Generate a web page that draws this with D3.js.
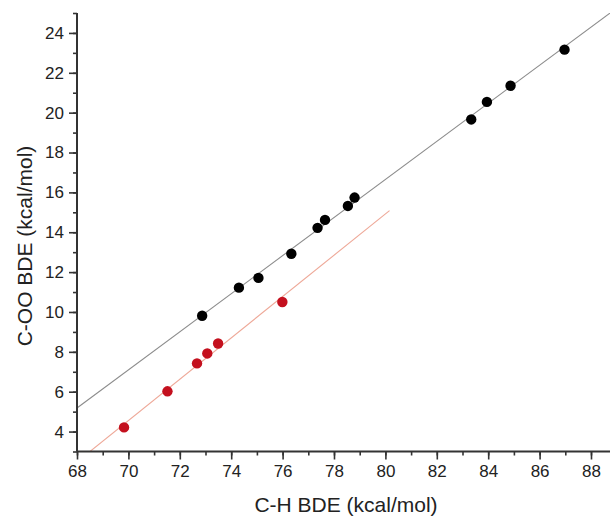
<!DOCTYPE html>
<html>
<head>
<meta charset="utf-8">
<script src="https://cdn.jsdelivr.net/npm/d3@7"></script>
<style>
  body { margin: 0; background: #fff; }
  svg { display: block; font-family: "Liberation Sans", Arial, sans-serif; }
</style>
</head>
<body>
<svg id="chart" width="610" height="517"></svg>
<script>
// black series
const blackX = [72.87, 74.30, 75.06, 76.34, 77.36, 77.65, 78.54, 78.80, 83.34, 83.95, 84.87, 86.97];
const blackY = [9.81, 11.22, 11.71, 12.92, 14.22, 14.62, 15.32, 15.74, 19.66, 20.54, 21.35, 23.16];
// red series
const redX = [69.83, 71.52, 72.67, 73.07, 73.49, 75.99];
const redY = [4.21, 6.02, 7.42, 7.92, 8.42, 10.50];
// x extent of the fitted lines
const blackFitRange = [68, 89];
const redFitRange = [68, 80.16];

const xTicks = [68, 70, 72, 74, 76, 78, 80, 82, 84, 86, 88];
const yTicks = [4, 6, 8, 10, 12, 14, 16, 18, 20, 22, 24];

const svg = d3.select("#chart");
const x = d3.scaleLinear().domain([68, 89]).range([77, 77 + 21 * 25.7]);
const y = d3.scaleLinear().domain([3, 25]).range([451.5, 13]);

function fit(xs, ys) {
  const mx = d3.mean(xs), my = d3.mean(ys);
  let sxy = 0, sxx = 0;
  xs.forEach((v, i) => { sxy += (v - mx) * (ys[i] - my); sxx += (v - mx) * (v - mx); });
  const b = sxy / sxx;
  return v => my + b * (v - mx);
}

svg.append("clipPath").attr("id", "plot")
  .append("rect")
  .attr("x", x(68)).attr("y", y(25))
  .attr("width", 610 - x(68)).attr("height", y(3) - y(25));

const plot = svg.append("g").attr("clip-path", "url(#plot)");

const line = d3.line().x(d => x(d[0])).y(d => y(d[1]));
const bf = fit(blackX, blackY);
const rf = fit(redX, redY);

plot.append("path")
  .attr("d", line(blackFitRange.map(v => [v, bf(v)])))
  .attr("stroke", "#8c8c8c").attr("stroke-width", 1.1).attr("fill", "none");
plot.append("path")
  .attr("d", line(redFitRange.map(v => [v, rf(v)])))
  .attr("stroke", "#eea898").attr("stroke-width", 1.1).attr("fill", "none");

plot.selectAll(".bp").data(blackX).enter().append("circle")
  .attr("cx", d => x(d)).attr("cy", (d, i) => y(blackY[i]))
  .attr("r", 5.2).attr("fill", "#000");
plot.selectAll(".rp").data(redX).enter().append("circle")
  .attr("cx", d => x(d)).attr("cy", (d, i) => y(redY[i]))
  .attr("r", 5.2).attr("fill", "#c4101e");

// axes: minor ticks every 1, major (labelled) every 2
const axisColor = "#333";
const xAxis = svg.append("g").attr("transform", `translate(0,${y(3)})`)
  .call(d3.axisBottom(x).tickValues(d3.range(68, 89.5, 1)).tickSize(4).tickFormat(""));
const xLabels = svg.append("g").attr("transform", `translate(0,${y(3)})`)
  .call(d3.axisBottom(x).tickValues(xTicks).tickSize(8).tickPadding(5));
xLabels.select(".domain").remove();

const yAxis = svg.append("g").attr("transform", `translate(${x(68)},0)`)
  .call(d3.axisLeft(y).tickValues(d3.range(3, 25.5, 1)).tickSize(4).tickFormat(""));
const yLabels = svg.append("g").attr("transform", `translate(${x(68)},0)`)
  .call(d3.axisLeft(y).tickValues(yTicks).tickSize(8).tickPadding(5));
yLabels.select(".domain").remove();

svg.selectAll(".domain").attr("stroke", axisColor).attr("stroke-width", 2);
xAxis.select(".domain").attr("d", `M${x(68)},0H610`);
yAxis.select(".domain").attr("d", `M0,${y(25)}V${y(3)}`);
svg.selectAll(".tick line").attr("stroke", axisColor).attr("stroke-width", 1.6);
svg.selectAll(".tick text").attr("fill", "#222").attr("font-size", 17)
  .attr("font-family", "Liberation Sans, Arial, sans-serif");

svg.append("text")
  .attr("x", 346).attr("y", 512)
  .attr("text-anchor", "middle").attr("font-size", 21).attr("fill", "#222")
  .text("C-H BDE (kcal/mol)");
svg.append("text")
  .attr("transform", `translate(32,246) rotate(-90)`)
  .attr("text-anchor", "middle").attr("font-size", 21).attr("fill", "#222")
  .text("C-OO BDE (kcal/mol)");
</script>
</body>
</html>
